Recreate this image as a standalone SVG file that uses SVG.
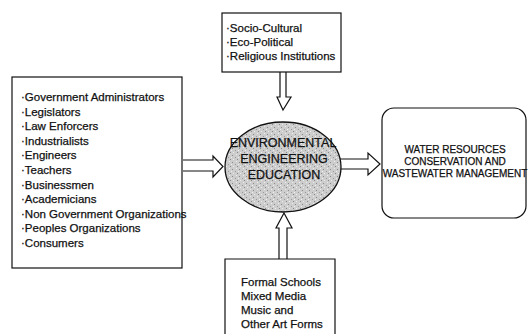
<svg xmlns="http://www.w3.org/2000/svg" width="528" height="334" viewBox="0 0 528 334">
<style>
.box{fill:#fff;stroke:#111;stroke-width:1.2}
.arr{fill:#fff;stroke:#111;stroke-width:1.2;stroke-linejoin:miter}
.t,.c,.r{font-family:"Liberation Sans",Arial,sans-serif;fill:#111;stroke:#111;stroke-width:0.25}
.t{font-size:11.5px}
.c{font-size:12.5px;text-anchor:middle}
.r{font-size:10px;text-anchor:middle}
</style>
<defs>
<pattern id="stip" width="7" height="7" patternUnits="userSpaceOnUse">
<rect width="7" height="7" fill="#cdcdcd"/>
<rect x="1" y="1" width="1" height="1" fill="#8a8a8a"/>
<rect x="4" y="3" width="1" height="1" fill="#999"/>
<rect x="2" y="5" width="1" height="1" fill="#eee"/>
<rect x="5" y="0" width="1" height="1" fill="#eee"/>
<rect x="6" y="5" width="1" height="1" fill="#888"/>
<rect x="0" y="3" width="1" height="1" fill="#f2f2f2"/>
</pattern>
</defs>
<g id="connectors">
<path class="arr" d="M280,72 V97 H277 L283,110 L291,97 H286 V72"/>
<path class="arr" d="M183,160 H213 V156 L223,166.5 L213,177 V171 H183"/>
<path class="arr" d="M340,159 H368 V153 L380,164 L368,175 V169 H340"/>
<path class="arr" d="M279,259 V228 H276 L284,213 L292,228 H287 V259"/>
</g>
<g id="stakeholders">
<rect class="box" x="12" y="77" width="170" height="191"/>
<text class="t" x="21" y="101">·Government Administrators</text>
<text class="t" x="21" y="115.6">·Legislators</text>
<text class="t" x="21" y="130.2">·Law Enforcers</text>
<text class="t" x="21" y="144.8">·Industrialists</text>
<text class="t" x="21" y="159.4">·Engineers</text>
<text class="t" x="21" y="174">·Teachers</text>
<text class="t" x="21" y="188.6">·Businessmen</text>
<text class="t" x="21" y="203.2">·Academicians</text>
<text class="t" x="21" y="217.8">·Non Government Organizations</text>
<text class="t" x="21" y="232.4">·Peoples Organizations</text>
<text class="t" x="21" y="247">·Consumers</text>
</g>
<g id="factors">
<rect class="box" x="222" y="13" width="119" height="59"/>
<text class="t" x="226" y="32">·Socio-Cultural</text>
<text class="t" x="226" y="46">·Eco-Political</text>
<text class="t" x="226" y="60">·Religious Institutions</text>
</g>
<g id="education">
<ellipse cx="283" cy="167" rx="58" ry="45" fill="url(#stip)" stroke="#111" stroke-width="1.3"/>
<text class="c" x="283" y="147">ENVIRONMENTAL</text>
<text class="c" x="284" y="163">ENGINEERING</text>
<text class="c" x="284" y="179">EDUCATION</text>
</g>
<g id="outcome">
<rect class="box" x="382" y="108" width="144" height="110" rx="12" ry="12"/>
<text class="r" x="455" y="153">WATER RESOURCES</text>
<text class="r" x="455" y="165">CONSERVATION AND</text>
<text class="r" x="455" y="177">WASTEWATER MANAGEMENT</text>
</g>
<g id="media">
<path class="box" d="M225,336 V259 H335 V336"/>
<text class="t" x="241" y="286">Formal Schools</text>
<text class="t" x="241" y="300">Mixed Media</text>
<text class="t" x="241" y="314">Music and</text>
<text class="t" x="241" y="328">Other Art Forms</text>
</g>
</svg>
